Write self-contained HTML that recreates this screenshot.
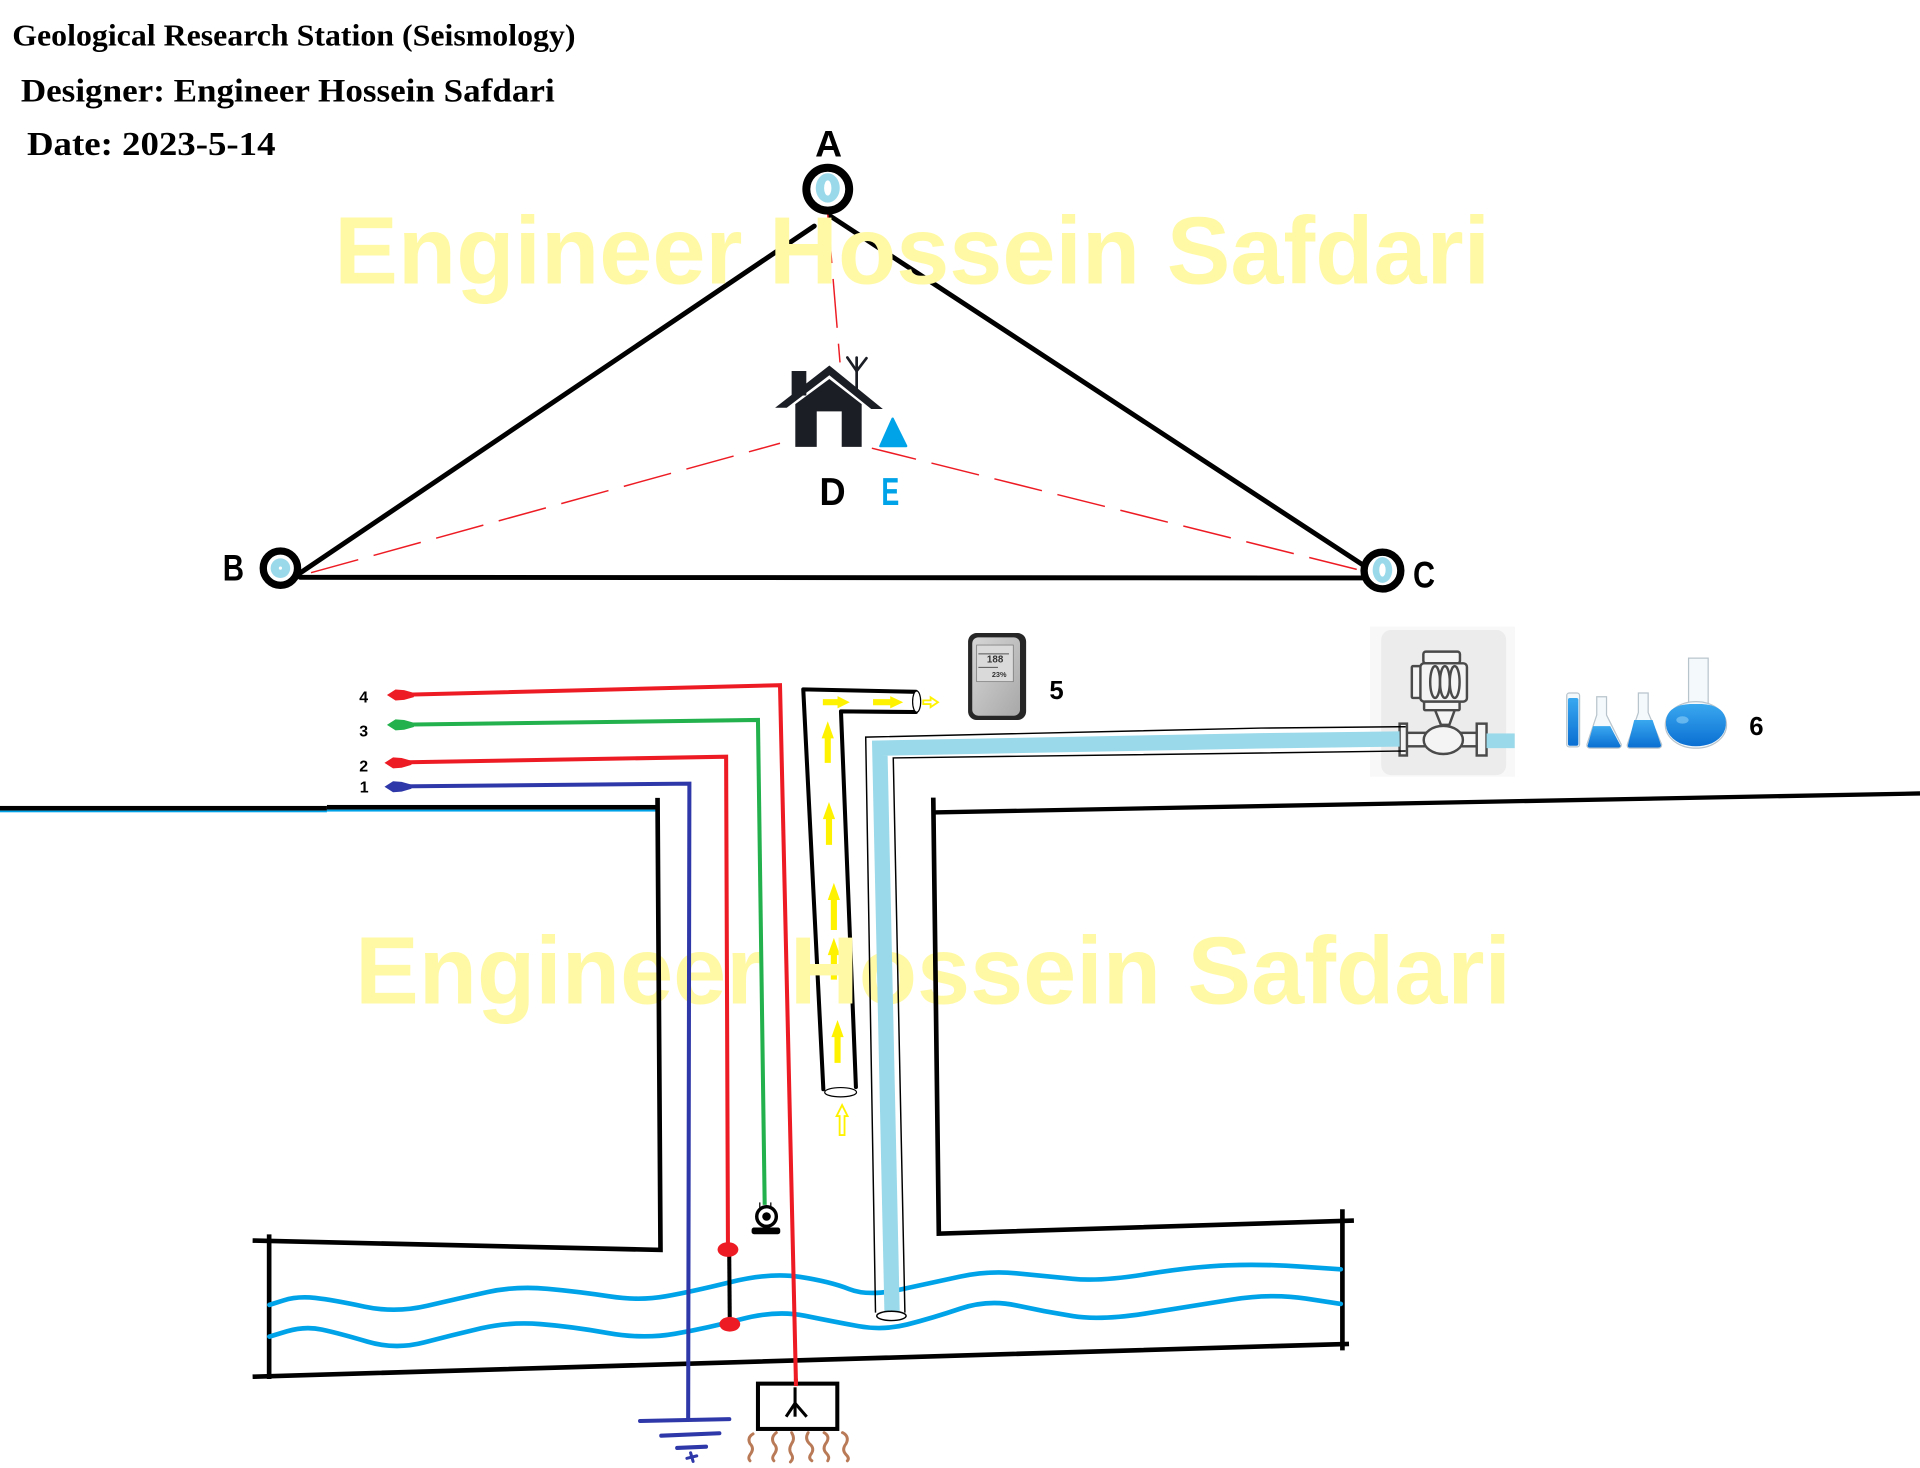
<!DOCTYPE html>
<html><head><meta charset="utf-8">
<style>
html,body{margin:0;padding:0;background:#fff;}
svg{display:block;}
</style></head><body>
<svg xmlns="http://www.w3.org/2000/svg" width="1920" height="1468" viewBox="0 0 1568 1198.9" preserveAspectRatio="none">
<defs>
<linearGradient id="devg" x1="0" y1="0" x2="1" y2="1">
<stop offset="0" stop-color="#d6d6d6"/><stop offset="1" stop-color="#a8a8a8"/>
</linearGradient>
<linearGradient id="liq" x1="0" y1="0" x2="0" y2="1">
<stop offset="0" stop-color="#3aa8f0"/><stop offset="1" stop-color="#0a6fd2"/>
</linearGradient>
</defs>
<rect x="0" y="0" width="1568" height="1199" fill="#fff"/>

<!-- Header text -->
<g font-family="'Liberation Serif', serif" font-weight="bold" fill="#000">
<text x="10" y="37" font-size="25" textLength="460" lengthAdjust="spacingAndGlyphs">Geological Research Station (Seismology)</text>
<text x="17" y="83" font-size="27" textLength="436" lengthAdjust="spacingAndGlyphs">Designer: Engineer Hossein Safdari</text>
<text x="22" y="126.6" font-size="28" textLength="203" lengthAdjust="spacingAndGlyphs">Date: 2023-5-14</text>
</g>

<!-- Triangle lines -->
<g stroke="#000" stroke-width="4" stroke-linecap="round">
<line x1="665" y1="184.6" x2="245" y2="468"/>
<line x1="678" y1="176.4" x2="1114" y2="462"/>
<line x1="245" y1="471.5" x2="1113" y2="472"/>
</g>

<!-- red dashed lines -->
<g stroke="#ed1c24" stroke-width="1.2" stroke-dasharray="40 13" fill="none">
<line x1="676" y1="175" x2="686" y2="296"/>
<line x1="254" y1="467.7" x2="637" y2="362"/>
<line x1="1108" y1="465" x2="712" y2="366"/>
</g>

<!-- watermark 1 -->
<text x="273" y="231.4" font-family="'Liberation Sans', sans-serif" font-weight="bold" font-size="78" fill="#fff9a5" textLength="944" lengthAdjust="spacingAndGlyphs">Engineer Hossein Safdari</text>

<!-- Station circles -->
<circle cx="676" cy="154.5" r="17.5" fill="#fff" stroke="#000" stroke-width="6.5"/>
<ellipse cx="676" cy="153.5" rx="9.8" ry="12" fill="#99d9ea"/>
<ellipse cx="676" cy="153.5" rx="3" ry="6.2" fill="#fff"/>

<circle cx="229" cy="464" r="14" fill="#fff" stroke="#000" stroke-width="6"/>
<circle cx="229" cy="464" r="8" fill="#99d9ea"/>
<circle cx="229" cy="464" r="1.3" fill="#fff"/>

<circle cx="1129" cy="466" r="15" fill="#fff" stroke="#000" stroke-width="6"/>
<ellipse cx="1129" cy="465.5" rx="8" ry="10.5" fill="#99d9ea"/>
<ellipse cx="1129" cy="465.5" rx="2.6" ry="5.4" fill="#fff"/>

<!-- Labels A-E -->
<g font-family="'Liberation Sans', sans-serif" font-weight="bold" font-size="30">
<text x="665.7" y="128" textLength="22" lengthAdjust="spacingAndGlyphs">A</text>
<text x="181.9" y="474.2" textLength="17.4" lengthAdjust="spacingAndGlyphs">B</text>
<text x="1154" y="480" textLength="18" lengthAdjust="spacingAndGlyphs">C</text>
<text x="669.3" y="412.4" font-size="32" textLength="21.3" lengthAdjust="spacingAndGlyphs">D</text>
<text x="719.8" y="412.4" font-size="32" fill="#00a2e8" textLength="14.6" lengthAdjust="spacingAndGlyphs">E</text>
</g>

<!-- House -->
<g fill="#1c1e26">
<rect x="646.5" y="303" width="12" height="20"/>
<polygon points="633,333 677.3,298.5 721,334 711.5,334 677.3,306.5 642.5,333"/>
<path d="M649.5,365 L649.5,330 L677.3,309.5 L703.7,330 L703.7,365 L687.4,365 L687.4,336 L667,336 L667,365 Z"/>
</g>
<g stroke="#1c1e26" stroke-width="2.2" fill="none" stroke-linecap="round">
<line x1="699.6" y1="292" x2="699.6" y2="318.5"/>
<line x1="699.6" y1="303" x2="692" y2="292"/>
<line x1="699.6" y1="303" x2="707.6" y2="292.5"/>
</g>
<polygon points="729,342 719,364.3 740,364.3" fill="#00a2e8" stroke="#00a2e8" stroke-width="2" stroke-linejoin="round"/>

<!-- Ground lines -->
<rect x="0" y="658.2" width="267" height="3.8" fill="#000"/>
<rect x="0" y="662" width="267" height="1.4" fill="#00a2e8"/>
<rect x="267" y="657.4" width="270" height="3.8" fill="#000"/>
<rect x="267" y="661.2" width="269" height="1.6" fill="#00a2e8"/>
<line x1="762" y1="663.5" x2="1568" y2="648" stroke="#000" stroke-width="3.5"/>

<!-- Yellow pipe (vent) -->
<g stroke="#000" stroke-width="3.3" fill="none" stroke-linecap="round" stroke-linejoin="round">
<polyline points="672.4,889.6 656,563 748,565"/>
<polyline points="699,887.8 686.8,581 748,581.5"/>
</g>
<ellipse cx="748.6" cy="573" rx="3.3" ry="8.7" fill="#fff" stroke="#000" stroke-width="1"/>
<ellipse cx="686.5" cy="892" rx="13" ry="3.8" fill="#fff" stroke="#000" stroke-width="1"/>
<g fill="#fff200">
<polygon points="676,589 681,603 678.5,603 678.5,623 673.5,623 673.5,603 671,603"/>
<polygon points="677,655 682,669 679.5,669 679.5,690 674.5,690 674.5,669 672,669"/>
<polygon points="681,721 686,735 683.5,735 683.5,759.5 678.5,759.5 678.5,735 676,735"/>
<polygon points="681,766 686,780 683.5,780 683.5,800 678.5,800 678.5,780 676,780"/>
<polygon points="684,833 689,847 686.5,847 686.5,868 681.5,868 681.5,847 679,847"/>
<polygon points="672,571 684,571 684,568.5 694,573.5 684,578.5 684,576 672,576"/>
<polygon points="713,571 727,571 727,568.5 737.6,573.5 727,578.5 727,576 713,576"/>
</g>
<g fill="#fff" stroke="#fff200" stroke-width="1.5">
<polygon points="687.7,902.5 692.2,911.5 689.7,911.5 689.7,927 685.7,927 685.7,911.5 683.2,911.5"/>
<polygon points="754,572 760,572 760,569.5 766,573.5 760,577.5 760,575 754,575"/>
</g>

<!-- watermark 2 -->
<text x="290" y="819.4" font-family="'Liberation Sans', sans-serif" font-weight="bold" font-size="78" fill="#fff9a5" textLength="944" lengthAdjust="spacingAndGlyphs">Engineer Hossein Safdari</text>

<!-- Shaft & chamber walls -->
<g stroke="#000" stroke-width="3.8" fill="none" stroke-linecap="square">
<polyline points="537,653.5 539.4,1020.8 208.2,1013.2"/>
<line x1="219.8" y1="1010" x2="219.8" y2="1124.3"/>
<line x1="208.2" y1="1124.3" x2="1099.8" y2="1097.6"/>
<line x1="1096.3" y1="989.5" x2="1096.3" y2="1100.9"/>
<polyline points="762.2,653.3 766.7,1007.5 1103.8,996.9"/>
</g>

<!-- Water waves -->
<g stroke="#00a2e8" stroke-width="3.8" fill="none" stroke-linecap="round" stroke-linejoin="round">
<path d="M220,1065.7 L231.5,1062.05 Q243,1058.4 257.5,1060.05 Q272,1061.7 297.5,1067.1 Q323,1072.5 349,1066.4 Q375,1060.3 398,1055.25 Q421,1050.2 447,1052.55 Q473,1054.9 497.5,1058.7 Q522,1062.5 543.5,1058.7 Q565,1054.9 597,1047 Q629,1039.1 653.5,1042.9 Q678,1046.7 693.5,1052.8 Q709,1058.9 735,1053.2 Q761,1047.5 784,1042.6 Q807,1037.7 830,1039.9 Q853,1042.1 876,1044.4 Q899,1046.7 936.5,1040.55 Q974,1034.4 1003,1033.35 Q1032,1032.3 1063.5,1034.45 L1095,1036.6"/>
<path d="M220,1091.6 L234.5,1087.25 Q249,1082.9 263,1085.9 Q277,1088.9 300,1095.7 Q323,1102.5 346.5,1096.35 Q370,1090.2 393,1084.8 Q416,1079.4 441.5,1081.4 Q467,1083.4 496,1088.6 Q525,1093.8 551,1089.3 Q577,1084.8 605.5,1077.3 Q634,1069.8 657.5,1074.6 Q681,1079.4 701,1083.05 Q721,1086.7 741,1081.65 Q761,1076.6 784,1068.85 Q807,1061.1 830,1066.15 Q853,1071.2 876,1074.85 Q899,1078.5 936.5,1072.55 Q974,1066.6 1006,1061.4 Q1038,1056.2 1066.5,1060.55 L1095,1064.9"/>
</g>

<!-- Pump / flow meter image -->
<rect x="1118.8" y="511.8" width="118.4" height="122.5" fill="#f8f8f8"/>
<rect x="1128" y="514.5" width="102" height="118.5" rx="8" fill="#ececec"/>
<g stroke="#4a4a4a" stroke-width="2" fill="#f4f4f4">
<rect x="1153" y="544" width="9" height="26" rx="1"/>
<rect x="1162.4" y="532.2" width="29.9" height="9.5" rx="2"/>
<rect x="1160" y="541.7" width="38" height="31.3" rx="3"/>
<ellipse cx="1172" cy="557" rx="4" ry="13" fill="none"/>
<ellipse cx="1180" cy="557" rx="4" ry="13" fill="none"/>
<ellipse cx="1188" cy="557" rx="4" ry="13" fill="none"/>
<rect x="1163" y="573" width="29" height="7" rx="1"/>
<polygon points="1172,580 1188,580 1183.6,592 1176.8,592"/>
<rect x="1147" y="598.5" width="61" height="11"/>
<rect x="1143" y="591" width="6" height="26"/>
<rect x="1206" y="591" width="8" height="26"/>
<ellipse cx="1178.7" cy="604.3" rx="16" ry="11.5"/>
</g>

<!-- Light blue water pipe -->
<polyline points="728.5,1071 718.5,611 1030,605 1143,603.5" stroke="#99d9ea" stroke-width="12.5" fill="none" stroke-linejoin="miter"/>
<rect x="1214" y="599" width="23" height="12" fill="#99d9ea"/>
<g stroke="#000" stroke-width="1.2" fill="none">
<polyline points="715,1072 707,602 1030,594.6 1148,593.5"/>
<polyline points="739,1072 729.5,619 1030,615 1148,613.3"/>
</g>
<ellipse cx="728" cy="1074.7" rx="12" ry="3.8" fill="#fff" stroke="#000" stroke-width="1.2"/>

<!-- Wires -->
<g fill="none" stroke-width="3.3" stroke-linejoin="miter">
<polyline points="330,567.4 637,559.6 650,1128" stroke="#ed1c24"/>
<polyline points="330,591.8 619,588 624.5,984" stroke="#22b14c"/>
<polyline points="328,622.6 593,618 594.5,1020" stroke="#ed1c24"/>
<polyline points="328,642.2 563,640 562,1160" stroke="#2f38a8"/>
<line x1="595.5" y1="1020" x2="596" y2="1081" stroke="#000"/>
</g>
<polygon fill="#ed1c24" points="316,567.6 323,563.1 330,563.6 338,565.9 338,569.3 330,571.6 323,572.1"/>
<polygon fill="#22b14c" points="316,592 323,587.5 330,588 338,590.3 338,593.7 330,596 323,596.5"/>
<polygon fill="#ed1c24" points="314,623 321,618.5 328,619 336,621.3 336,624.7 328,627 321,627.5"/>
<polygon fill="#2f38a8" points="314,642.5 321,638 328,638.5 336,640.8 336,644.2 328,646.5 321,647"/>
<ellipse cx="594.5" cy="1020.5" rx="8.5" ry="6" fill="#ed1c24"/>
<ellipse cx="596" cy="1081.5" rx="8.5" ry="6" fill="#ed1c24"/>

<g font-family="'Liberation Sans', sans-serif" font-weight="bold" font-size="13" fill="#000">
<text x="293.4" y="573.6">4</text>
<text x="293.4" y="601.6">3</text>
<text x="293.4" y="630">2</text>
<text x="293.8" y="647.4">1</text>
</g>

<!-- webcam sensor -->
<line x1="620.5" y1="982" x2="620.5" y2="987" stroke="#000" stroke-width="1"/>
<line x1="629.5" y1="982" x2="629.5" y2="987" stroke="#000" stroke-width="1"/>
<circle cx="626" cy="993.5" r="8" fill="#fff" stroke="#000" stroke-width="2.8"/>
<circle cx="626" cy="993.5" r="3.5" fill="#000"/>
<rect x="613.8" y="1002.5" width="23.4" height="5.5" rx="2" fill="#000"/>

<!-- sensor box -->
<rect x="619" y="1130" width="64.8" height="37" fill="#fff" stroke="#000" stroke-width="3.3"/>
<g stroke="#000" stroke-width="2.5" fill="none">
<line x1="649.3" y1="1133" x2="649.3" y2="1157"/>
<line x1="649.3" y1="1146" x2="642" y2="1157"/>
<line x1="649.3" y1="1146" x2="658.8" y2="1157"/>
</g>
<line x1="650" y1="1126" x2="650" y2="1132" stroke="#ed1c24" stroke-width="3.3"/>

<!-- electrical ground -->
<g stroke="#2f38a8" stroke-width="3.3" stroke-linecap="round">
<line x1="522.7" y1="1160.5" x2="595.6" y2="1159"/>
<line x1="540" y1="1172.5" x2="587.5" y2="1170.5"/>
<line x1="553" y1="1182.5" x2="576.6" y2="1181.5"/>
<line x1="561" y1="1191" x2="569" y2="1189" stroke-width="2.5"/>
<line x1="564" y1="1186.5" x2="566" y2="1193.5" stroke-width="2.5"/>
</g>

<!-- brown squiggles -->
<g stroke="#b97a57" stroke-width="2.4" fill="none" stroke-linecap="round">
<path d="M615,1171 q-5,3 -2.5,8 q4,4 0,9 q-2,3 0,5"/>
<path d="M634,1170 q-5,4 -2,9 q4,4 0,9 q-2,3 0,5"/>
<path d="M646.5,1170 q3,5 0,9 q-3,5 0,9 q2,3 -1,6"/>
<path d="M660,1170 q-3,5 1,9 q5,4 1,9 q-2,3 1,5"/>
<path d="M673,1170 q5,3 2,8 q-4,5 0,9 q3,3 1,6"/>
<path d="M688,1170 q6,3 3,9 q-4,5 0,9 q3,3 1,5"/>
</g>

<!-- Device 5 -->
<rect x="790.6" y="517" width="47.4" height="71" rx="7" fill="#262626"/>
<rect x="794" y="520.5" width="39" height="64" rx="5" fill="url(#devg)"/>
<rect x="797.6" y="526.8" width="29.9" height="29.9" fill="#dadada" stroke="#777" stroke-width="0.6"/>
<g fill="#333" font-family="'Liberation Sans', sans-serif" font-size="8" font-weight="bold">
<text x="806" y="541">188</text>
<text x="810" y="553" font-size="6">23%</text>
</g>
<line x1="799" y1="534" x2="824" y2="534" stroke="#555" stroke-width="0.8"/>
<line x1="799" y1="545" x2="815" y2="545" stroke="#555" stroke-width="0.8"/>
<text x="857" y="571" font-family="'Liberation Sans', sans-serif" font-weight="bold" font-size="21" fill="#000">5</text>

<!-- Lab glassware -->
<g stroke="#b8c4cc" stroke-width="1" fill="#f4f9fc">
<rect x="1279.5" y="566" width="10.5" height="44" rx="2"/>
<path d="M1304,569 L1312,569 L1312,584 L1324,608 Q1324,611 1321,611 L1299,611 Q1295.7,611 1296,608 L1304,584 Z"/>
<path d="M1338,566 L1346,566 L1346,582 L1357,608 Q1357,611 1354,611 L1331.5,611 Q1328.5,611 1329,608 L1338,582 Z"/>
<rect x="1379" y="537.5" width="16" height="40"/>
<ellipse cx="1385" cy="592" rx="25" ry="19"/>
</g>
<g fill="url(#liq)">
<rect x="1280.5" y="570" width="8.5" height="39" rx="1.5"/>
<path d="M1301,593 L1315,593 L1323.5,609 Q1323.5,610.5 1321,610.5 L1299,610.5 Q1296.5,610.5 1296.5,609 Z"/>
<path d="M1334.6,588 L1349.6,588 L1356.5,608.5 Q1356.5,610.5 1354,610.5 L1331.5,610.5 Q1329,610.5 1329.5,608.5 Z"/>
<path d="M1361,586 Q1364,576 1380,575 L1390,575 Q1406,576 1409,586 Q1412,600 1398,607 Q1385,612 1372,607 Q1358,600 1361,586 Z"/>
</g>
<ellipse cx="1374" cy="588" rx="5" ry="3" fill="#8fd0f7" opacity="0.6"/>
<text x="1428.6" y="600.2" font-family="'Liberation Sans', sans-serif" font-weight="bold" font-size="21" fill="#000">6</text>

</svg>
</body></html>
